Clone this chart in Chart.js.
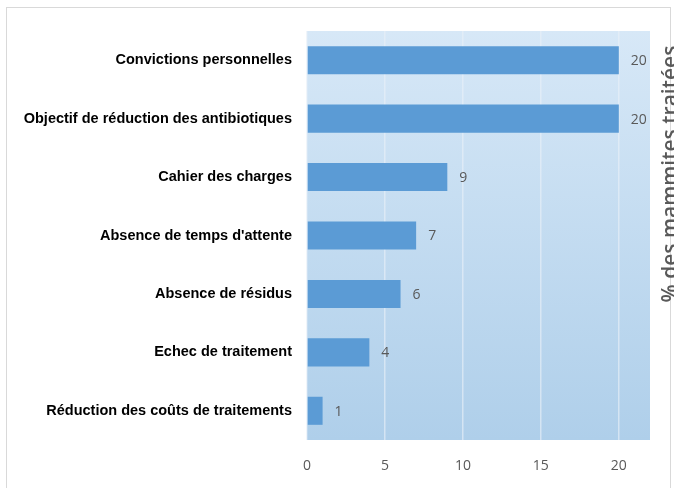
<!DOCTYPE html>
<html><head><meta charset="utf-8">
<script src="https://cdn.jsdelivr.net/npm/chart.js@4.4.0/dist/chart.umd.min.js"></script>
<style>
html,body{margin:0;padding:0;background:#fff;}
#wrap{position:relative;width:674px;height:488px;overflow:hidden;}
#frame{position:absolute;left:6px;top:7px;width:665px;height:490px;border:1px solid #d9d9d9;box-sizing:border-box;pointer-events:none;}
#ytitle{position:absolute;left:669px;top:174px;transform:translate(-50%,-50%) rotate(-90deg);white-space:nowrap;font-family:"Open Sans",sans-serif;font-weight:600;font-size:21px;color:#595959;}
canvas{position:absolute;left:0;top:0;}
</style></head>
<body><div id="wrap"><canvas id="c" width="674" height="488"></canvas><div id="frame"></div><div id="ytitle">% des mammites traitées</div></div>
<script>
const categories = ["Convictions personnelles","Objectif de réduction des antibiotiques","Cahier des charges","Absence de temps d'attente","Absence de résidus","Echec de traitement","Réduction des coûts de traitements"];
const values = [20,20,9,7,6,4,1];
const xTicks = [0,5,10,15,20];
const axisMax = 22;

const bgPlugin = {
  id:'bg',
  beforeDraw(chart){
    const {ctx, chartArea:a} = chart;
    const g = ctx.createLinearGradient(0,a.top,0,a.bottom);
    g.addColorStop(0,'#d7e8f7');
    g.addColorStop(1,'#afcfea');
    ctx.save(); ctx.fillStyle=g; ctx.fillRect(a.left,a.top,a.right-a.left,a.bottom-a.top); ctx.restore();
  }
};
const labelPlugin = {
  id:'vals',
  afterDatasetsDraw(chart){
    const {ctx} = chart;
    const meta = chart.getDatasetMeta(0);
    ctx.save();
    ctx.font = '14px "Open Sans", sans-serif';
    ctx.fillStyle = '#595959';
    ctx.textAlign='left'; ctx.textBaseline='middle';
    meta.data.forEach((el,i)=>{ ctx.fillText(String(values[i]), el.x+12, el.y+1); });
    ctx.restore();
  }
};

new Chart(document.getElementById('c'),{
  type:'bar',
  data:{labels:categories,datasets:[{data:values,backgroundColor:'#5b9bd5',borderWidth:0,barPercentage:0.48,categoryPercentage:1}]},
  options:{
    indexAxis:'y',responsive:false,animation:false,
    layout:{padding:{top:31,right:24,bottom:0,left:0}},
    plugins:{legend:{display:false},tooltip:{enabled:false}},
    scales:{
      x:{min:0,max:axisMax,
        afterBuildTicks(s){ s.ticks = xTicks.map(v=>({value:v})); },
        afterFit(s){ s.height = 48; },
        grid:{color:'rgba(232,240,248,0.65)',lineWidth:1.5,drawTicks:false},
        border:{display:false},
        ticks:{padding:18,color:'#595959',font:{family:'"Open Sans", sans-serif',size:14}}
      },
      y:{
        afterFit(s){ s.width = 307; },
        grid:{display:false},border:{display:false},
        ticks:{padding:7,color:'#000',font:{family:'"Liberation Sans", Arial, sans-serif',size:14.5,weight:'bold'}}
      }
    }
  },
  plugins:[bgPlugin,labelPlugin]
});
</script></body></html>
